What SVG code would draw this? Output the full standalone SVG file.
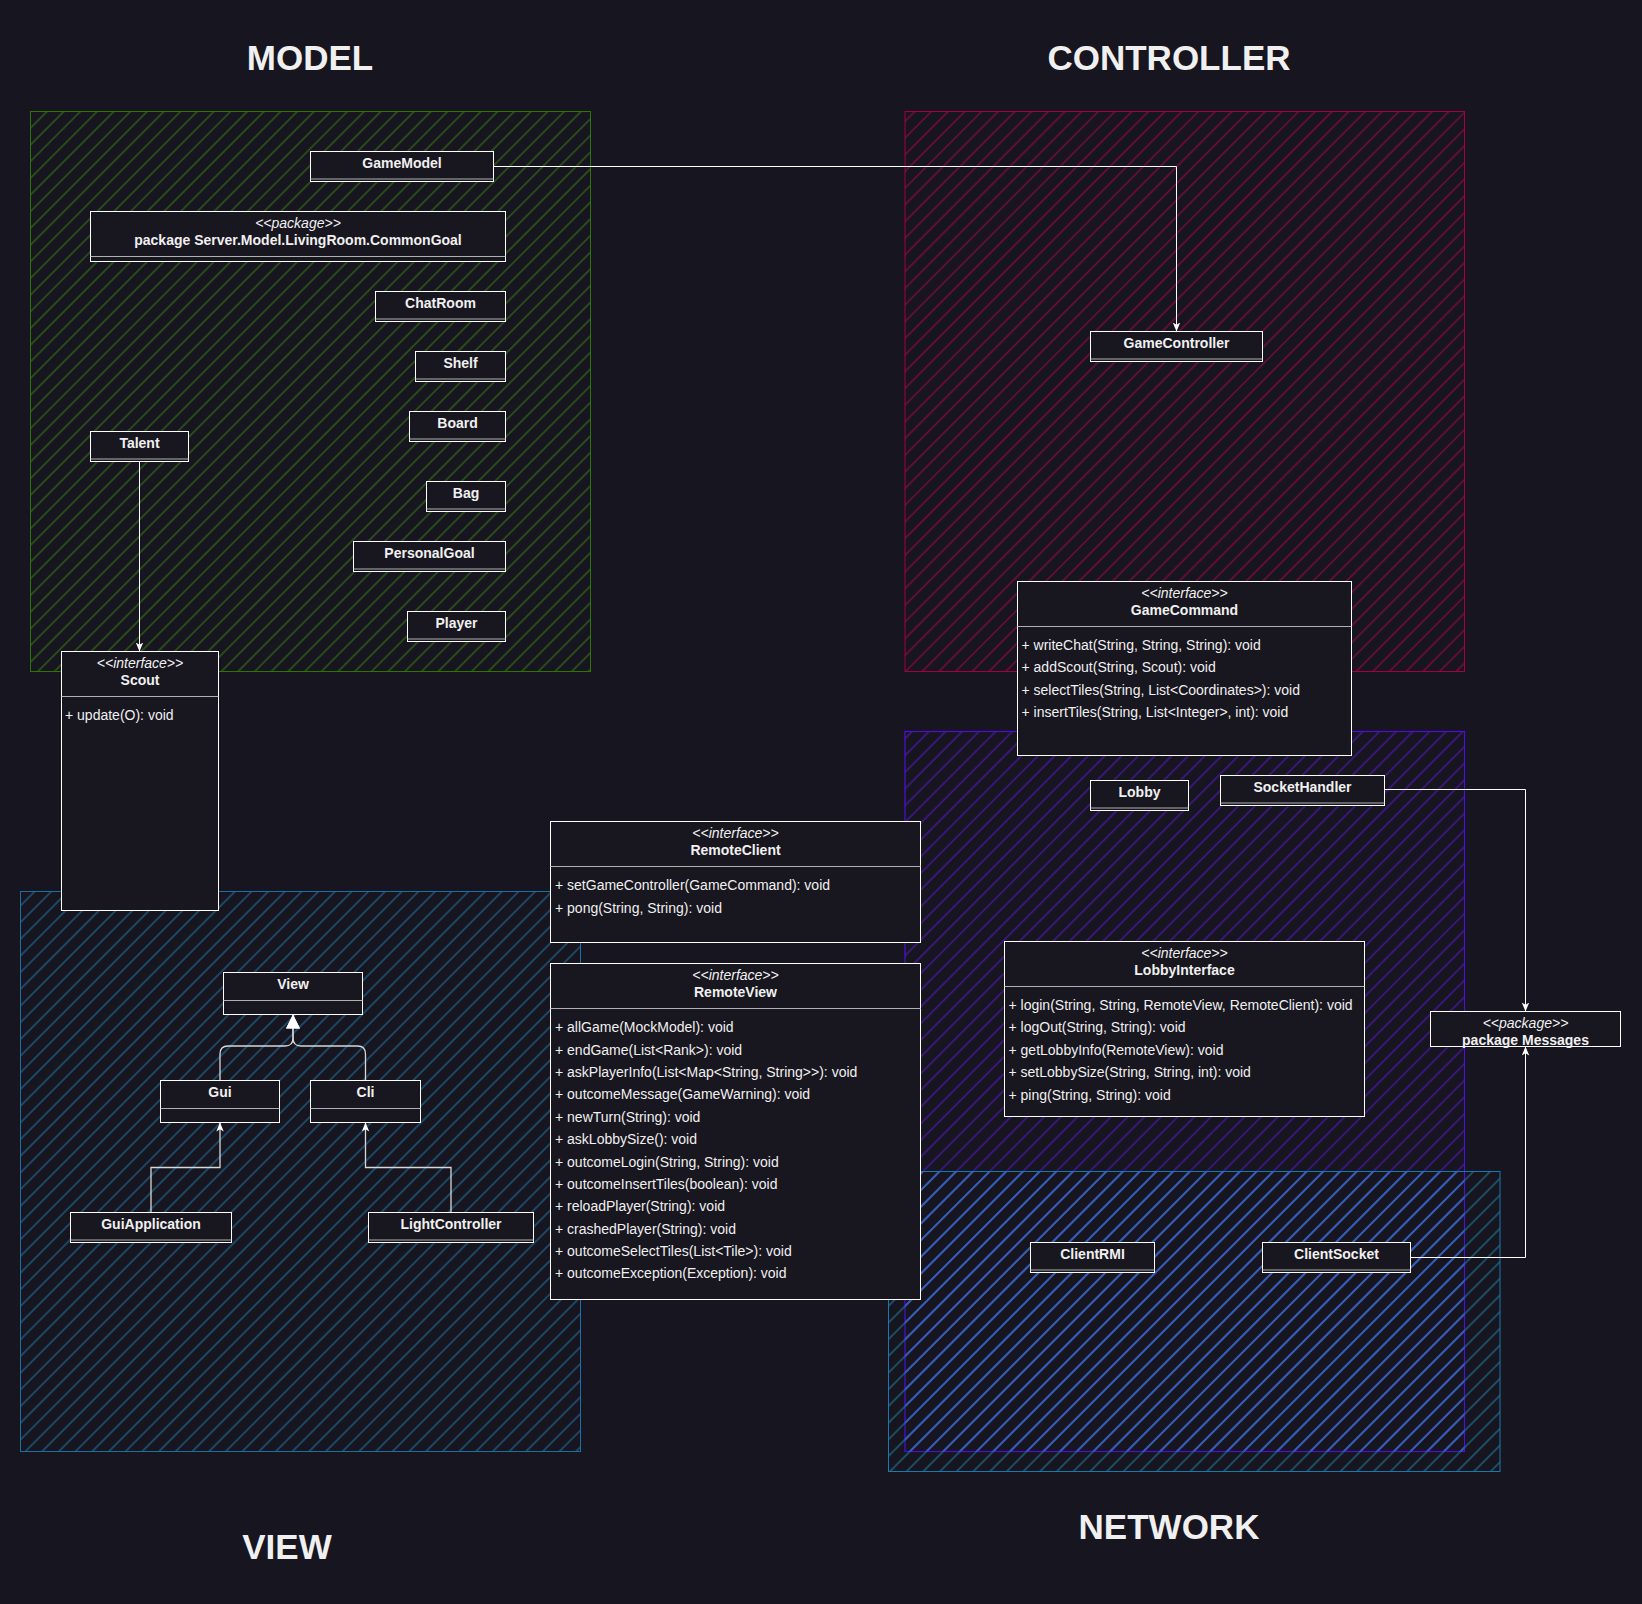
<svg xmlns="http://www.w3.org/2000/svg" width="1642" height="1604" viewBox="0 0 1642 1604">
<style>
text{font-family:"Liberation Sans",Arial,Helvetica,sans-serif;fill:#f0f0f0;font-size:14px}
.ttl{font-size:35px;font-weight:bold;text-anchor:middle}
.n{font-weight:bold;text-anchor:middle}
.st{font-style:italic;text-anchor:middle}
.box{fill:#18161f;stroke:#ffffff;stroke-width:1}
.sep{stroke:#b0b0b0;stroke-width:1}
.edge{fill:none;stroke:#ffffff;stroke-width:1}
.edgeg{fill:none;stroke:#d8d8d8;stroke-width:1.3}
</style>
<defs>
<pattern id="hG" patternUnits="userSpaceOnUse" width="11.8" height="11.8" patternTransform="rotate(-45)"><line x1="-1" y1="5.9" x2="12.8" y2="5.9" stroke="#3b7f12" stroke-width="1"/></pattern>
<pattern id="hR" patternUnits="userSpaceOnUse" width="11.8" height="11.8" patternTransform="rotate(-45)"><line x1="-1" y1="5.9" x2="12.8" y2="5.9" stroke="#a8064a" stroke-width="1"/></pattern>
<pattern id="hP" patternUnits="userSpaceOnUse" width="11.8" height="11.8" patternTransform="rotate(-45)"><line x1="-1" y1="5.9" x2="12.8" y2="5.9" stroke="#5a18d0" stroke-width="1"/></pattern>
<pattern id="hB" patternUnits="userSpaceOnUse" width="11.8" height="11.8" patternTransform="rotate(-45)"><line x1="-1" y1="5.9" x2="12.8" y2="5.9" stroke="#1f7aa8" stroke-width="1"/></pattern>
<pattern id="hN" patternUnits="userSpaceOnUse" width="11.8" height="11.8" patternTransform="rotate(-45)"><line x1="-1" y1="5.9" x2="12.8" y2="5.9" stroke="#1f86a8" stroke-width="1"/></pattern>
<pattern id="hO" patternUnits="userSpaceOnUse" width="11.8" height="11.8" patternTransform="rotate(-45)"><line x1="-1" y1="5.9" x2="12.8" y2="5.9" stroke="#3a6cdc" stroke-width="1"/></pattern>
<marker id="arr" markerUnits="userSpaceOnUse" markerWidth="10" markerHeight="8" refX="9" refY="3.75" orient="auto"><path d="M0,0 L9,3.75 L0,7.5 L2.2,3.75 Z" fill="#ffffff"/></marker>
<marker id="tri" markerUnits="userSpaceOnUse" markerWidth="15" markerHeight="15" refX="14" refY="7" orient="auto"><path d="M0,0 L14,7 L0,14 Z" fill="#ffffff"/></marker>
</defs>
<rect x="0" y="0" width="1642" height="1604" fill="#17151f"/>

<g id="regions">
<rect x="30.5" y="111.5" width="560" height="560" fill="url(#hG)" stroke="#2d7600" stroke-width="1"/>
<rect x="905" y="111.5" width="559.5" height="560" fill="url(#hR)" stroke="#a50040" stroke-width="1"/>
<rect x="905" y="731.5" width="559.5" height="720" fill="url(#hP)" stroke="#4c10d8" stroke-width="1.2"/>
<rect x="888.5" y="1171.5" width="611.5" height="300" fill="url(#hN)" stroke="#1a78b0" stroke-width="1"/>
<rect x="905.6" y="1172" width="558.3" height="279" fill="url(#hO)"/>
<line x1="905" y1="1171.5" x2="1464.5" y2="1171.5" stroke="#1a78b0" stroke-width="1"/>
<rect x="20.5" y="891.5" width="560" height="560" fill="url(#hB)" stroke="#1b6fa5" stroke-width="1"/>
<text class="ttl" x="310" y="70">MODEL</text>
<text class="ttl" x="1169" y="70">CONTROLLER</text>
<text class="ttl" x="287" y="1559">VIEW</text>
<text class="ttl" x="1169" y="1539">NETWORK</text>
</g>

<g id="connectors">
<path class="edge" d="M493.5,166.5 H1176.5 V331.5" marker-end="url(#arr)"/>
<path class="edge" d="M139.5,461.5 V651.5" marker-end="url(#arr)"/>
<path class="edge" d="M1384.5,789.5 H1525.5 V1011.5" marker-end="url(#arr)" stroke="#d0d0d0"/>
<path class="edge" d="M1410.5,1257.5 H1525.5 V1046.5" marker-end="url(#arr)"/>
<path class="edgeg" d="M151,1212.5 V1167.5 H220 V1122.5" marker-end="url(#arr)"/>
<path class="edgeg" d="M451,1212.5 V1167.5 H365.5 V1122.5" marker-end="url(#arr)"/>
<path class="edgeg" d="M220,1080.5 V1054 Q220,1046 228,1046 H285 Q293,1046 293,1038 V1014.5" marker-end="url(#tri)"/>
<path class="edgeg" d="M365.5,1080.5 V1054 Q365.5,1046 357.5,1046 H301 Q293,1046 293,1038 V1014.5" marker-end="url(#tri)"/>
</g>

<g id="GameModel"><rect class="box" x="310.5" y="151.5" width="183" height="30"/><line class="sep" x1="310.5" y1="179" x2="493.5" y2="179"/><text class="n" x="402" y="168">GameModel</text></g>
<g id="CommonGoal"><rect class="box" x="90.5" y="211.5" width="415" height="50"/><line class="sep" x1="90.5" y1="256.5" x2="505.5" y2="256.5"/><text class="st" x="298" y="228.3">&lt;&lt;package&gt;&gt;</text><text class="n" x="298" y="245">package Server.Model.LivingRoom.CommonGoal</text></g>
<g id="ChatRoom"><rect class="box" x="375.5" y="291.5" width="130" height="30"/><line class="sep" x1="375.5" y1="319" x2="505.5" y2="319"/><text class="n" x="440.5" y="308">ChatRoom</text></g>
<g id="Shelf"><rect class="box" x="415.5" y="351.5" width="90" height="30"/><line class="sep" x1="415.5" y1="379" x2="505.5" y2="379"/><text class="n" x="460.5" y="368">Shelf</text></g>
<g id="Board"><rect class="box" x="409.5" y="411.5" width="96" height="30"/><line class="sep" x1="409.5" y1="439" x2="505.5" y2="439"/><text class="n" x="457.5" y="428">Board</text></g>
<g id="Talent"><rect class="box" x="90.5" y="431.5" width="98" height="30"/><line class="sep" x1="90.5" y1="459" x2="188.5" y2="459"/><text class="n" x="139.5" y="448">Talent</text></g>
<g id="Bag"><rect class="box" x="426.5" y="481.5" width="79" height="30"/><line class="sep" x1="426.5" y1="509" x2="505.5" y2="509"/><text class="n" x="466" y="498">Bag</text></g>
<g id="PersonalGoal"><rect class="box" x="353.5" y="541.5" width="152" height="30"/><line class="sep" x1="353.5" y1="569" x2="505.5" y2="569"/><text class="n" x="429.5" y="558">PersonalGoal</text></g>
<g id="Player"><rect class="box" x="407.5" y="611.5" width="98" height="30"/><line class="sep" x1="407.5" y1="639" x2="505.5" y2="639"/><text class="n" x="456.5" y="628">Player</text></g>

<g id="Scout"><rect class="box" x="61.5" y="651.5" width="157" height="259"/><line class="sep" x1="61.5" y1="696.5" x2="218.5" y2="696.5"/><text class="st" x="140" y="668.3">&lt;&lt;interface&gt;&gt;</text><text class="n" x="140" y="685">Scout</text><text x="65" y="720">+ update(O): void</text></g>

<g id="GameController"><rect class="box" x="1090.5" y="331.5" width="172" height="30"/><line class="sep" x1="1090.5" y1="359" x2="1262.5" y2="359"/><text class="n" x="1176.5" y="348">GameController</text></g>

<g id="GameCommand"><rect class="box" x="1017.5" y="581.5" width="334" height="174"/><line class="sep" x1="1017.5" y1="626.5" x2="1351.5" y2="626.5"/><text class="st" x="1184.5" y="598.3">&lt;&lt;interface&gt;&gt;</text><text class="n" x="1184.5" y="615">GameCommand</text>
<text x="1021.5" y="650">+ writeChat(String, String, String): void</text>
<text x="1021.5" y="672.4">+ addScout(String, Scout): void</text>
<text x="1021.5" y="694.8">+ selectTiles(String, List&lt;Coordinates&gt;): void</text>
<text x="1021.5" y="717.1">+ insertTiles(String, List&lt;Integer&gt;, int): void</text></g>

<g id="Lobby"><rect class="box" x="1090.5" y="780.5" width="98" height="30"/><line class="sep" x1="1090.5" y1="808" x2="1188.5" y2="808"/><text class="n" x="1139.5" y="797">Lobby</text></g>
<g id="SocketHandler"><rect class="box" x="1220.5" y="775.5" width="164" height="30" stroke="#d8d8d8"/><line class="sep" x1="1220.5" y1="803" x2="1384.5" y2="803"/><text class="n" x="1302.5" y="792">SocketHandler</text></g>

<g id="LobbyInterface"><rect class="box" x="1004.5" y="941.5" width="360" height="175"/><line class="sep" x1="1004.5" y1="986.5" x2="1364.5" y2="986.5"/><text class="st" x="1184.5" y="958.3">&lt;&lt;interface&gt;&gt;</text><text class="n" x="1184.5" y="975">LobbyInterface</text>
<text x="1008.5" y="1010">+ login(String, String, RemoteView, RemoteClient): void</text>
<text x="1008.5" y="1032.4">+ logOut(String, String): void</text>
<text x="1008.5" y="1054.8">+ getLobbyInfo(RemoteView): void</text>
<text x="1008.5" y="1077.1">+ setLobbySize(String, String, int): void</text>
<text x="1008.5" y="1099.5">+ ping(String, String): void</text></g>

<g id="Messages"><rect class="box" x="1430.5" y="1011.5" width="190" height="35"/><text class="st" x="1525.5" y="1028.3">&lt;&lt;package&gt;&gt;</text><text class="n" x="1525.5" y="1045">package Messages</text></g>

<g id="ClientRMI"><rect class="box" x="1030.5" y="1242.5" width="124" height="30"/><line class="sep" x1="1030.5" y1="1270" x2="1154.5" y2="1270"/><text class="n" x="1092.5" y="1259">ClientRMI</text></g>
<g id="ClientSocket"><rect class="box" x="1262.5" y="1242.5" width="148" height="30"/><line class="sep" x1="1262.5" y1="1270" x2="1410.5" y2="1270"/><text class="n" x="1336.5" y="1259">ClientSocket</text></g>

<g id="RemoteClient"><rect class="box" x="550.5" y="821.5" width="370" height="121"/><line class="sep" x1="550.5" y1="866.5" x2="920.5" y2="866.5"/><text class="st" x="735.5" y="838.3">&lt;&lt;interface&gt;&gt;</text><text class="n" x="735.5" y="855">RemoteClient</text>
<text x="555" y="890.3">+ setGameController(GameCommand): void</text>
<text x="555" y="912.7">+ pong(String, String): void</text></g>

<g id="RemoteView"><rect class="box" x="550.5" y="963.5" width="370" height="336"/><line class="sep" x1="550.5" y1="1008.5" x2="920.5" y2="1008.5"/><text class="st" x="735.5" y="980">&lt;&lt;interface&gt;&gt;</text><text class="n" x="735.5" y="997">RemoteView</text>
<text x="555" y="1032.3">+ allGame(MockModel): void</text>
<text x="555" y="1054.7">+ endGame(List&lt;Rank&gt;): void</text>
<text x="555" y="1077">+ askPlayerInfo(List&lt;Map&lt;String, String&gt;&gt;): void</text>
<text x="555" y="1099.4">+ outcomeMessage(GameWarning): void</text>
<text x="555" y="1121.7">+ newTurn(String): void</text>
<text x="555" y="1144.1">+ askLobbySize(): void</text>
<text x="555" y="1166.5">+ outcomeLogin(String, String): void</text>
<text x="555" y="1188.8">+ outcomeInsertTiles(boolean): void</text>
<text x="555" y="1211.2">+ reloadPlayer(String): void</text>
<text x="555" y="1233.5">+ crashedPlayer(String): void</text>
<text x="555" y="1255.9">+ outcomeSelectTiles(List&lt;Tile&gt;): void</text>
<text x="555" y="1278.3">+ outcomeException(Exception): void</text></g>

<g id="View"><rect class="box" x="223.5" y="972.5" width="139" height="42" stroke="#d0d0d0"/><line class="sep" x1="223.5" y1="1000.5" x2="362.5" y2="1000.5"/><text class="n" x="293" y="989">View</text></g>
<g id="Gui"><rect class="box" x="160.5" y="1080.5" width="119" height="42" stroke="#e0e0e0"/><line class="sep" x1="160.5" y1="1108.5" x2="279.5" y2="1108.5"/><text class="n" x="220" y="1097">Gui</text></g>
<g id="Cli"><rect class="box" x="310.5" y="1080.5" width="110" height="42" stroke="#e0e0e0"/><line class="sep" x1="310.5" y1="1108.5" x2="420.5" y2="1108.5"/><text class="n" x="365.5" y="1097">Cli</text></g>
<g id="GuiApplication"><rect class="box" x="70.5" y="1212.5" width="161" height="30"/><line class="sep" x1="70.5" y1="1240" x2="231.5" y2="1240"/><text class="n" x="151" y="1229">GuiApplication</text></g>
<g id="LightController"><rect class="box" x="368.5" y="1212.5" width="165" height="30" stroke="#d8d8d8"/><line class="sep" x1="368.5" y1="1240" x2="533.5" y2="1240"/><text class="n" x="451" y="1229">LightController</text></g>
</svg>
